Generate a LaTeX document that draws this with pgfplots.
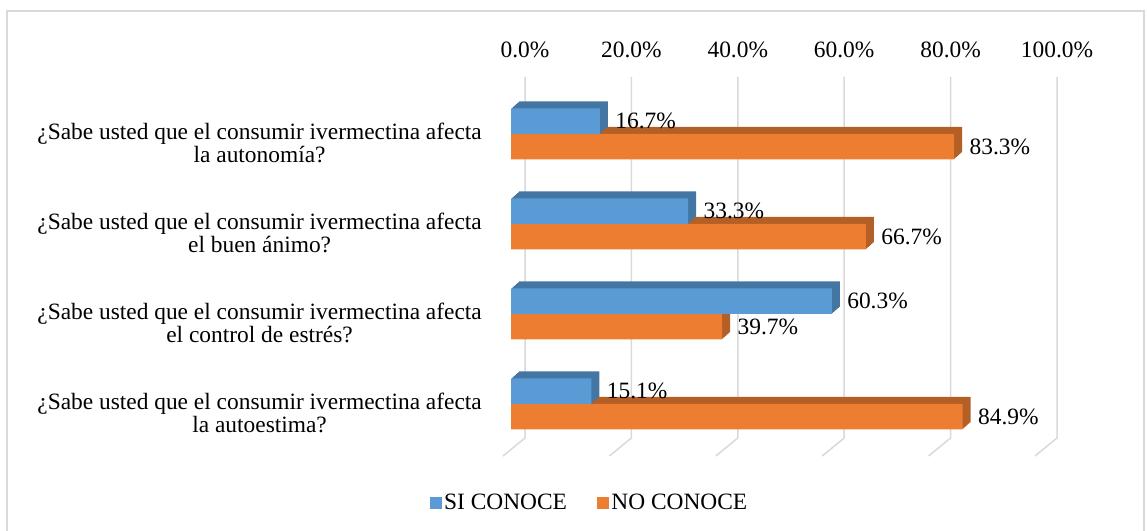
\documentclass[border=0pt]{standalone}
\usepackage{pgfplots}
\pgfplotsset{compat=1.18}
\usepackage{pgfplotstable}
\usepackage{fontspec}
\setmainfont{Liberation Serif}
\definecolor{siblue}{HTML}{5B9BD5}
\definecolor{noorange}{HTML}{ED7D31}
\definecolor{sidark}{HTML}{4476A4}
\definecolor{nodark}{HTML}{B35F25}
\definecolor{gridc}{HTML}{D9D9D9}
\definecolor{framec}{HTML}{D9D9D9}
\newcommand\chartfont{\fontsize{23.4bp}{23bp}\selectfont}

\pgfplotstableread{
y v
3 16.7
2 33.3
1 60.3
0 15.1
}\sidata
\pgfplotstableread{
y v
3 83.3
2 66.7
1 39.7
0 84.9
}\nodata

\begin{document}
\begin{tikzpicture}
\path[use as bounding box] (0bp,0bp) rectangle (1147bp,531bp);
\draw[framec, line width=1.3bp] (7bp,-20bp) -- (7bp,520bp) -- (1144bp,520bp) -- (1144bp,-20bp);
\begin{axis}[
 at={(511bp,93bp)}, anchor=south west,
 scale only axis, width=532bp, height=361bp,
 xmin=0, xmax=100, ymin=-0.3778, ymax=3.6333,
 clip=false,
 axis line style={draw=none},
 major tick length=0pt,
 xtick={0,20,40,60,80,100},
 xticklabel pos=upper,
 xticklabel={\pgfmathprintnumber[fixed,fixed zerofill,precision=1]{\tick}\%},
 xticklabel style={font=\chartfont, xshift=14bp, anchor=base, yshift=19bp},
 ytick={0,1,2,3},
 yticklabels={{¿Sabe usted que el consumir ivermectina afecta\\la autoestima?},
   {¿Sabe usted que el consumir ivermectina afecta\\el control de estrés?},
   {¿Sabe usted que el consumir ivermectina afecta\\el buen ánimo?},
   {¿Sabe usted que el consumir ivermectina afecta\\la autonomía?}},
 yticklabel style={font=\chartfont, align=center, anchor=east, inner sep=0pt, xshift=-29bp, yshift=-9bp},
 /pgf/number format/assume math mode=true,
 xbar, bar width=25.5bp,
 point meta=x,
 every node near coord/.append style={font=\chartfont, text=black, anchor=west, xshift=12bp},
 legend style={at={(axis description cs:0.1485,-0.180)}, anchor=center, draw=none, fill=none,
   font=\chartfont, legend columns=2,
   /tikz/every even column/.append style={column sep=27bp}, nodes={inner sep=3bp}},
]
\pgfplotsinvokeforeach{0,20,40,60,80,100}{
 \draw[gridc, line width=1.5bp] ([xshift=14bp]axis cs:#1,3.6333) -- ([xshift=14bp]axis cs:#1,-0.3778) -- ([xshift=-8bp,yshift=-18bp]axis cs:#1,-0.3778);
}
\addlegendimage{legend image code/.code={\fill[siblue] (0bp,-5.5bp) rectangle (11bp,5.5bp);}}
\addlegendentry{SI CONOCE}
\addlegendimage{legend image code/.code={\fill[noorange] (0bp,-5.5bp) rectangle (11bp,5.5bp);}}
\addlegendentry{NO CONOCE}
\pgfplotsinvokeforeach{8,7,6,5,4,3,2,1}{
 \addplot[forget plot, draw=none, fill=nodark, bar shift=-12.75bp, xshift=#1bp, yshift={0.875*#1bp}] table[x=v,y=y]{\nodata};
}
\addplot[forget plot, draw=none, fill=noorange, bar shift=-12.75bp,
  nodes near coords={\pgfmathprintnumber[fixed,fixed zerofill,precision=1]{\pgfplotspointmeta}\%}] table[x=v,y=y]{\nodata};
\pgfplotsinvokeforeach{8,7,6,5,4,3,2,1}{
 \addplot[forget plot, draw=none, fill=sidark, bar shift=12.75bp, xshift=#1bp, yshift={0.875*#1bp}] table[x=v,y=y]{\sidata};
}
\addplot[forget plot, draw=none, fill=siblue, bar shift=12.75bp,
  nodes near coords={\pgfmathprintnumber[fixed,fixed zerofill,precision=1]{\pgfplotspointmeta}\%}] table[x=v,y=y]{\sidata};
\end{axis}
\end{tikzpicture}
\end{document}
